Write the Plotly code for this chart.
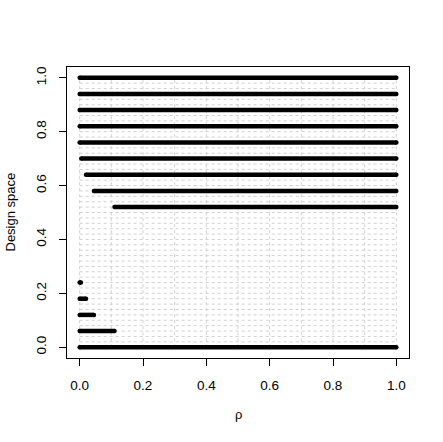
import plotly.graph_objects as go

# Data
design_levels = [0.0, 0.06, 0.12, 0.18, 0.24, 0.52, 0.58, 0.64, 0.70, 0.76, 0.82, 0.88, 0.94, 1.0]
rho_start = [0.0, 0.0, 0.0, 0.0, 0.0, 0.11, 0.045, 0.02, 0.005, 0.0, 0.0, 0.0, 0.0, 0.0]
rho_end = [1.0, 0.11, 0.045, 0.02, 0.004, 1.0, 1.0, 1.0, 1.0, 1.0, 1.0, 1.0, 1.0, 1.0]
tick_vals = [0.0, 0.2, 0.4, 0.6, 0.8, 1.0]
tick_text = ["0.0", "0.2", "0.4", "0.6", "0.8", "1.0"]
grid_x = [i / 10 for i in range(11)]
grid_y = [i / 50 for i in range(51)]

FONT = "Liberation Sans, Arial, sans-serif"

fig = go.Figure()

# dotted grid restricted to the unit square
gx, gy = [], []
for v in grid_x:
    gx += [v, v, None]
    gy += [0, 1, None]
for v in grid_y:
    gx += [0, 1, None]
    gy += [v, v, None]
fig.add_trace(go.Scatter(x=gx, y=gy, mode="lines",
                         line=dict(color="#d0d0d0", width=1, dash="dot"),
                         hoverinfo="skip", showlegend=False))

for lv, s, e in zip(design_levels, rho_start, rho_end):
    fig.add_trace(go.Scatter(x=[s, e], y=[lv, lv], mode="lines+markers",
                             line=dict(color="black", width=4.5),
                             marker=dict(color="black", size=4.5),
                             showlegend=False))

axis_common = dict(
    range=[-0.04, 1.04], tickvals=tick_vals, ticktext=tick_text,
    showline=True, mirror=True, linecolor="black", linewidth=1,
    ticks="outside", ticklen=7, tickcolor="black", tickwidth=1,
    showgrid=False, zeroline=False, automargin=False,
    tickfont=dict(family=FONT, size=13.5, color="black"),
)

fig.update_layout(
    width=443, height=442,
    margin=dict(l=67, r=34, t=67, b=84, autoexpand=False),
    paper_bgcolor="white", plot_bgcolor="white",
    font=dict(family=FONT, size=13, color="black"),
    xaxis=dict(**axis_common, ticklabelstandoff=8),
    yaxis=dict(**axis_common, tickangle=-90, ticklabelstandoff=8),
    annotations=[
        dict(text="ρ", xref="paper", yref="paper", x=0.5, y=0,
             xanchor="center", yanchor="middle", yshift=-56, showarrow=False,
             font=dict(family=FONT, size=13, color="black")),
        dict(text="Design space", xref="paper", yref="paper", x=0, y=0.5,
             xanchor="center", yanchor="middle", xshift=-57, textangle=-90,
             showarrow=False, font=dict(family=FONT, size=13, color="black")),
    ],
)

fig.write_html("out.html", config={"displayModeBar": False},
               post_script="document.body.style.margin='0';")
